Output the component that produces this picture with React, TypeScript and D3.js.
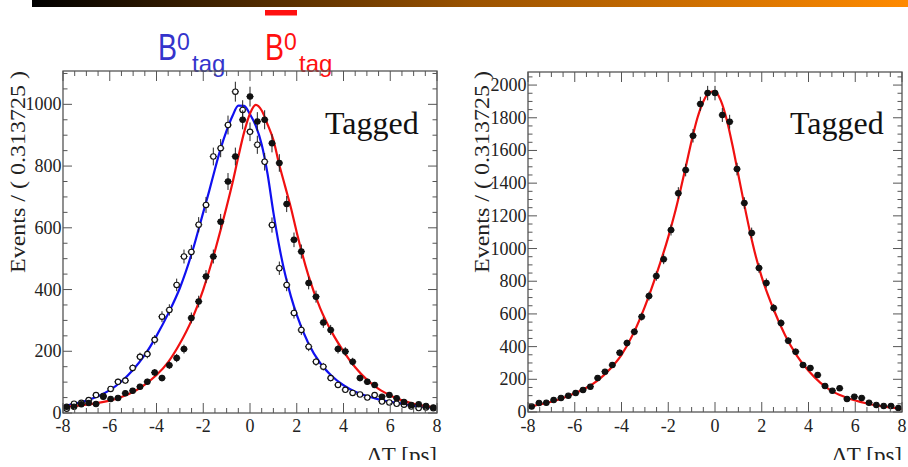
import React from "react";
import * as d3 from "d3";

// ---------- DATA ----------
const binCenters = [
  -7.843, -7.529, -7.216, -6.902, -6.588, -6.275, -5.961, -5.647, -5.333, -5.02,
  -4.706, -4.392, -4.078, -3.765, -3.451, -3.137, -2.824, -2.51, -2.196, -1.882,
  -1.569, -1.255, -0.941, -0.627, -0.314, 0, 0.314, 0.627, 0.941, 1.255,
  1.569, 1.882, 2.196, 2.51, 2.824, 3.137, 3.451, 3.765, 4.078, 4.392,
  4.706, 5.02, 5.333, 5.647, 5.961, 6.275, 6.588, 6.902, 7.216, 7.529, 7.843,
];
const binHalfWidth = 0.156863;

// B0 tag (open circles, left panel)
const b0Data = [
  14, 30, 33, 42, 58, 55, 78, 101, 105, 146,
  182, 191, 237, 312, 334, 415, 507, 522, 610, 674,
  831, 858, 933, 1041, 982, 911, 869, 814, 609, 469,
  415, 324, 269, 215, 166, 150, 113, 91, 75, 65,
  60, 50, 58, 37, 34, 30, 27, 21, 16, 18, 15,
];
// anti-B0 tag (filled circles, left panel)
const b0barData = [
  20, 20, 28, 32, 29, 53, 45, 49, 64, 72,
  85, 101, 131, 113, 155, 178, 207, 308, 361, 442,
  507, 620, 750, 831, 950, 1025, 944, 950, 874, 810,
  677, 561, 523, 421, 377, 293, 269, 207, 199, 166,
  113, 101, 91, 53, 58, 48, 36, 26, 28, 23, 18,
];
// all tagged (filled circles, right panel)
const sumData = [
  33, 55, 57, 73, 86, 100, 116, 135, 155, 208,
  247, 287, 363, 422, 491, 583, 709, 832, 935, 1113,
  1339, 1480, 1690, 1885, 1951, 1951, 1817, 1776, 1486, 1278,
  1095, 881, 789, 636, 544, 436, 369, 287, 269, 226,
  159, 130, 145, 80, 94, 86, 57, 43, 37, 37, 24,
];

// fit curves sampled on a grid
const curveGrid = [
  -8, -7.5, -7, -6.5, -6, -5.5, -5, -4.5, -4, -3.5, -3, -2.5,
  -2, -1.75, -1.5, -1.25, -1, -0.75, -0.5, -0.25, 0, 0.25, 0.5, 0.75, 1, 1.25, 1.5, 1.75, 2,
  2.5, 3, 3.5, 4, 4.5, 5, 5.5, 6, 6.5, 7, 7.5, 8,
];
const b0Fit = [
  22, 30, 40, 54, 74, 102, 140, 188, 250, 322, 405, 515,
  650, 718, 790, 858, 915, 962, 996, 995, 968, 930, 870, 775, 650, 540, 450, 378, 318,
  225, 162, 120, 90, 69, 55, 44, 36, 30, 24, 20, 16,
];
const b0barFit = [
  20, 23, 27, 33, 40, 52, 68, 92, 123, 165, 225, 300,
  400, 460, 525, 595, 668, 745, 830, 910, 970, 998, 980, 935, 885, 805, 735, 665, 585,
  445, 340, 262, 200, 148, 108, 78, 57, 41, 30, 22, 17,
];
const sumFit = [
  32, 46, 63, 86, 114, 148, 195, 262, 350, 478, 645, 845,
  1070, 1200, 1345, 1500, 1660, 1800, 1900, 1955, 1962, 1905, 1790, 1630, 1450, 1270, 1100, 950, 825,
  630, 470, 345, 252, 180, 128, 95, 70, 52, 38, 28, 19,
];

const xTickValues = [-8, -6, -4, -2, 0, 2, 4, 6, 8];
const leftYTicks = [0, 200, 400, 600, 800, 1000];
const rightYTicks = [0, 200, 400, 600, 800, 1000, 1200, 1400, 1600, 1800, 2000];
const yTitle = "Events / ( 0.313725 )";
const xTitle = "ΔT [ps]";
const panelLabel = "Tagged";

// ---------- STYLE ----------
const SERIF = "'Liberation Serif', 'Times New Roman', serif";
const SANS = "'Liberation Sans', Arial, sans-serif";
const FRAME = "#555";

type Series = { values: number[]; open: boolean };
type Fit = { values: number[]; color: string };

function Panel(props: {
  x0: number; x1: number; yTop: number; yBottom: number; yMax: number;
  yTicks: number[]; series: Series[]; fits: Fit[]; titleX: number;
}) {
  const { x0, x1, yTop, yBottom, yMax, yTicks, series, fits, titleX } = props;
  const x = d3.scaleLinear().domain([-8, 8]).range([x0, x1]);
  const y = d3.scaleLinear().domain([0, yMax]).range([yBottom, yTop]);
  const minorX = d3.range(-8, 8.001, 0.5);
  const minorY = d3.range(0, yMax, 50);
  const line = d3
    .line<number>()
    .x((_, i) => x(curveGrid[i]))
    .y((d) => y(d))
    .curve(d3.curveMonotoneX);

  return (
    <g>
      {fits.map((f, k) => (
        <path key={"f" + k} d={line(f.values) || ""} fill="none" stroke={f.color} strokeWidth={2.2} />
      ))}
      {series.map((s, k) => (
        <g key={"s" + k}>
          {s.values.map((v, i) => {
            const cx = x(binCenters[i]);
            const cy = y(v);
            const e = Math.sqrt(v);
            return (
              <g key={i}>
                <line x1={cx} x2={cx} y1={y(v + e)} y2={y(Math.max(0, v - e))} stroke="#222" strokeWidth={1} />
                <line x1={x(binCenters[i] - binHalfWidth)} x2={x(binCenters[i] + binHalfWidth)} y1={cy} y2={cy} stroke="#222" strokeWidth={1} />
                <circle cx={cx} cy={cy} r={2.7} fill={s.open ? "#fff" : "#111"} stroke="#111" strokeWidth={1.1} />
              </g>
            );
          })}
        </g>
      ))}
      <rect x={x0} y={yTop} width={x1 - x0} height={yBottom - yTop} fill="none" stroke={FRAME} strokeWidth={1.3} />
      {minorX.map((t, i) => {
        const major = Math.abs(t % 2) < 1e-6;
        const L = major ? 10 : 5;
        return (
          <g key={"xt" + i}>
            <line x1={x(t)} x2={x(t)} y1={yBottom} y2={yBottom - L} stroke={FRAME} strokeWidth={1} />
            <line x1={x(t)} x2={x(t)} y1={yTop} y2={yTop + L} stroke={FRAME} strokeWidth={1} />
          </g>
        );
      })}
      {minorY.map((t, i) => {
        const major = t % 200 === 0;
        const L = major ? 9 : 4.5;
        return (
          <g key={"yt" + i}>
            <line x1={x0} x2={x0 + L} y1={y(t)} y2={y(t)} stroke={FRAME} strokeWidth={1} />
            <line x1={x1} x2={x1 - L} y1={y(t)} y2={y(t)} stroke={FRAME} strokeWidth={1} />
          </g>
        );
      })}
      {xTickValues.map((t) => (
        <text key={"xl" + t} x={x(t)} y={432} textAnchor="middle" fontFamily={SERIF} fontSize={18} fill="#222">
          {t}
        </text>
      ))}
      {yTicks.map((t) => (
        <text key={"yl" + t} x={x0 - 1.5} y={y(t) + 6} textAnchor="end" fontFamily={SERIF} fontSize={18} fill="#222">
          {t}
        </text>
      ))}
      <text
        transform={`translate(${titleX},71) rotate(-90)`}
        textAnchor="end"
        fontFamily={SERIF}
        fontSize={21}
        fill="#222"
        textLength={202}
        lengthAdjust="spacingAndGlyphs"
      >
        {yTitle}
      </text>
      <text x={x1} y={463} textAnchor="end" fontFamily={SERIF} fontSize={23} fill="#222">
        {xTitle}
      </text>
      <text x={x1 - 112} y={134} fontFamily={SERIF} fontSize={32} fill="#111">
        {panelLabel}
      </text>
    </g>
  );
}

function TagLabel(props: { x: number; color: string; bar?: boolean }) {
  const { x, color, bar } = props;
  return (
    <g fill={color} fontFamily={SANS}>
      {bar && <rect x={x} y={10} width={32} height={5.5} fill={color} />}
      <text x={x} y={60}>
        <tspan fontSize={37} textLength={19} lengthAdjust="spacingAndGlyphs">B</tspan>
        <tspan x={x + 19} y={50} fontSize={23}>0</tspan>
        <tspan x={x + 34} y={72} fontSize={24}>tag</tspan>
      </text>
    </g>
  );
}

export default function App() {
  return (
    <svg
      width={908}
      height={467}
      viewBox="0 0 908 467"
      style={{ position: "absolute", left: 0, top: 0, background: "#fff" }}
    >
      <defs>
        <linearGradient id="topbar" x1="0" x2="1" y1="0" y2="0">
          <stop offset="0" stopColor="#000000" />
          <stop offset="0.5" stopColor="#9a5200" />
          <stop offset="1" stopColor="#ff8a00" />
        </linearGradient>
      </defs>
      <rect x={0} y={0} width={908} height={467} fill="#fff" />
      <rect x={32} y={0} width={876} height={7} fill="url(#topbar)" />

      <TagLabel x={158} color="#3434cc" />
      <TagLabel x={265} color="#ff1010" bar />

      <Panel
        x0={63}
        x1={437}
        yTop={71}
        yBottom={413}
        yMax={1108}
        yTicks={leftYTicks}
        titleX={25}
        series={[
          { values: b0Data, open: true },
          { values: b0barData, open: false },
        ]}
        fits={[
          { values: b0Fit, color: "#1010f0" },
          { values: b0barFit, color: "#f01010" },
        ]}
      />
      <Panel
        x0={528}
        x1={902}
        yTop={72}
        yBottom={412}
        yMax={2080}
        yTicks={rightYTicks}
        titleX={489}
        series={[{ values: sumData, open: false }]}
        fits={[{ values: sumFit, color: "#f01010" }]}
      />
      <rect x={0} y={460} width={908} height={7} fill="#fff" />
    </svg>
  );
}
